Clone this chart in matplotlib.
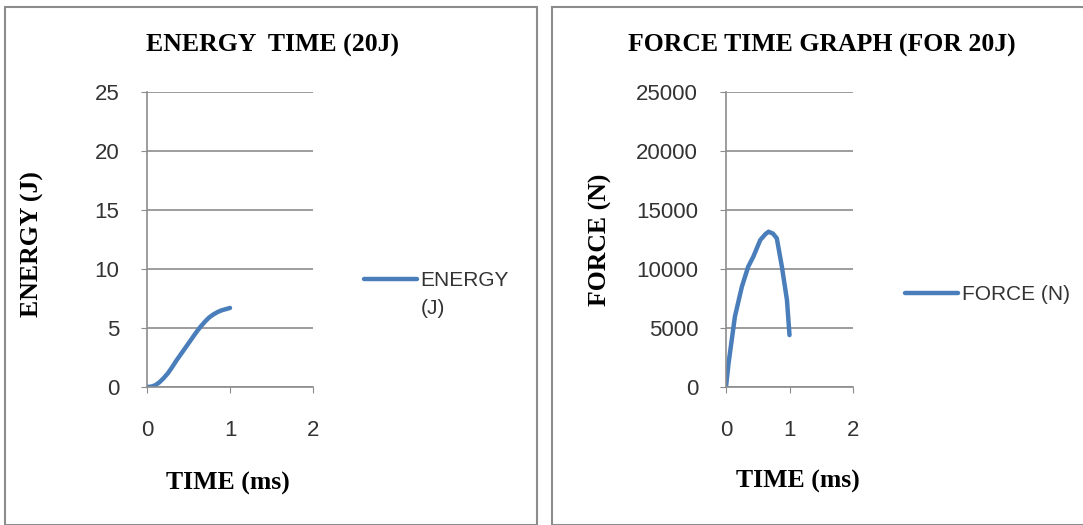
import matplotlib.pyplot as plt
from matplotlib.patches import Rectangle

# energy-time data (20J)
time_e = [0, 0.05, 0.1, 0.15, 0.2, 0.25, 0.3, 0.35, 0.4, 0.45, 0.5, 0.55, 0.6,
          0.65, 0.7, 0.75, 0.8, 0.85, 0.9, 0.95, 1.0]
energy = [0, 0.03, 0.15, 0.4, 0.75, 1.15, 1.65, 2.2, 2.7, 3.2, 3.7, 4.2, 4.7,
          5.15, 5.55, 5.9, 6.15, 6.35, 6.5, 6.6, 6.7]

# force-time data (20J)
time_f = [0, 0.04, 0.14, 0.25, 0.35, 0.43, 0.54, 0.62, 0.67, 0.74, 0.8, 0.88, 0.96, 1.0]
force = [0, 2000, 5960, 8500, 10200, 11040, 12460, 12950, 13160, 13000, 12600, 10200, 7370, 4400]

blue = '#4a7ebb'
grey = '#8c8c8c'
tick_font = 'Liberation Sans'
label_font = 'Liberation Serif'

fig = plt.figure(figsize=(10.83, 5.25), dpi=100)
W, H = 1083, 525

# chart area borders
fig.add_artist(Rectangle((5 / W, 0), 532 / W, 1 - 7 / H, transform=fig.transFigure,
                         fill=False, edgecolor=grey, lw=1.5))
fig.add_artist(Rectangle((552 / W, 0), 540 / W, 1 - 7 / H, transform=fig.transFigure,
                         fill=False, edgecolor=grey, lw=1.5))

ax1 = fig.add_axes([147 / W, 1 - 387 / H, 166 / W, 295 / H])
ax2 = fig.add_axes([726 / W, 1 - 387 / H, 127 / W, 295 / H])


def style(ax, yticks):
    ax.set_xlim(0, 2)
    ax.set_xticks([0, 1, 2])
    ax.set_ylim(yticks[0], yticks[-1])
    ax.set_yticks(yticks)
    ax.grid(axis='y', color=grey, lw=1.2)
    ax.set_axisbelow(True)
    for s in ['top', 'right']:
        ax.spines[s].set_visible(False)
    for s in ['left', 'bottom']:
        ax.spines[s].set_color(grey)
        ax.spines[s].set_linewidth(1.2)
    ax.tick_params(axis='y', length=4, color=grey, pad=16, labelsize=16)
    ax.tick_params(axis='x', length=4, color=grey, pad=20, labelsize=16)
    for t in ax.get_xticklabels() + ax.get_yticklabels():
        t.set_fontfamily(tick_font)
        t.set_color('#333333')


ax1.plot(time_e, energy, color=blue, lw=3.2, solid_capstyle='round', label='ENERGY\n(J)')
style(ax1, [0, 5, 10, 15, 20, 25])

ax2.plot(time_f, force, color=blue, lw=3.2, solid_capstyle='round', label='FORCE (N)')
style(ax2, [0, 5000, 10000, 15000, 20000, 25000])

# titles and axis labels
lab = dict(fontfamily=label_font, fontweight='bold', fontsize=18.5)
fig.text(272 / W, 1 - 45 / H, 'ENERGY  TIME (20J)', ha='center', va='center', **lab)
fig.text(822 / W, 1 - 45 / H, 'FORCE TIME GRAPH (FOR 20J)', ha='center', va='center', **lab)
fig.text(228 / W, 1 - 483 / H, 'TIME (ms)', ha='center', va='center', **lab)
fig.text(798 / W, 1 - 481 / H, 'TIME (ms)', ha='center', va='center', **lab)
fig.text(32 / W, 1 - 244 / H, 'ENERGY (J)', ha='center', va='center', rotation=90, **lab)
fig.text(600 / W, 1 - 240 / H, 'FORCE (N)', ha='center', va='center', rotation=90, **lab)

leg_kw = dict(frameon=False, handlelength=2.5, handletextpad=0.2, borderpad=0,
              prop={'family': tick_font, 'size': 15}, labelcolor='#333333')
leg1 = ax1.legend(loc='center left', bbox_to_anchor=(354 / W, 1 - 295 / H),
                  bbox_transform=fig.transFigure, **leg_kw)
leg1.get_texts()[0].set_linespacing(1.6)
h = leg1.legend_handles[0]
h.set_ydata([y + 12 for y in h.get_ydata()])

ax2.legend(loc='center left', bbox_to_anchor=(895 / W, 1 - 295 / H),
           bbox_transform=fig.transFigure, **leg_kw)

fig.savefig('out.png', dpi=100)
